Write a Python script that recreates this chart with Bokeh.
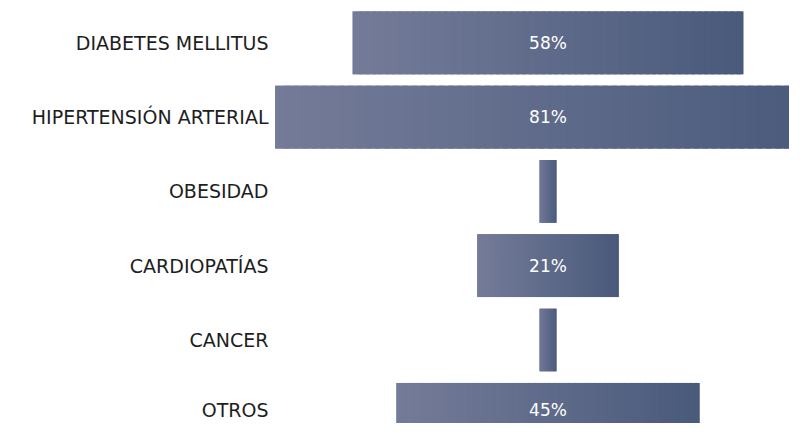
from bokeh.plotting import figure
from bokeh.models import Range1d, ColumnDataSource
from bokeh.core.properties import value
from bokeh.embed import file_html
from bokeh.resources import INLINE

# ---- data ----
categories = ["DIABETES MELLITUS", "HIPERTENSIÓN ARTERIAL", "OBESIDAD",
              "CARDIOPATÍAS", "CANCER", "OTROS"]
values = [58, 81, 2.5, 21, 2.5, 45]
value_labels = ["58%", "81%", "", "21%", "", "45%"]

# ---- style ----
LEFT_COLOR = (0x74, 0x7b, 0x99)
RIGHT_COLOR = (0x4a, 0x5a, 0x7b)
N_SLICES = 60
PX_PER_UNIT = 6.735
W, H = 789, 423
CENTER_PX = 547.5
ROW_PX = 74.3
FIRST_ROW_PX = 42.3
BAR_FRAC = 0.844
LABEL_RIGHT_PX = 268
LABEL_NUDGE_PX = [0, 0, 0, 0, 0, -4]   # small vertical nudges of the texts

x_start = -CENTER_PX / PX_PER_UNIT
x_end = (W - CENTER_PX) / PX_PER_UNIT
y_top = -FIRST_ROW_PX / ROW_PX
y_bottom = (H - FIRST_ROW_PX) / ROW_PX

p = figure(width=W, height=H, output_backend="svg", toolbar_location=None,
           x_range=Range1d(x_start, x_end), y_range=Range1d(y_bottom, y_top),
           min_border=0, outline_line_color=None)
p.axis.visible = False
p.grid.visible = False
p.background_fill_color = "white"
p.border_fill_color = "white"

def hexcol(c):
    return "#%02x%02x%02x" % tuple(int(round(v)) for v in c)

ys = list(range(len(categories)))
mid = hexcol([(a + b) / 2 for a, b in zip(LEFT_COLOR, RIGHT_COLOR)])

# base bars
p.hbar(y=ys, left=[-v / 2 for v in values], right=[v / 2 for v in values],
       height=BAR_FRAC, fill_color=mid, line_color=None)

# gradient slices (slightly overlapping to avoid seams)
sl, sr, sy, sc = [], [], [], []
for i, v in enumerate(values):
    left = -v / 2
    for j in range(N_SLICES):
        t = j / (N_SLICES - 1)
        sl.append(left + v * j / N_SLICES)
        sr.append(min(v / 2, left + v * (j + 1.6) / N_SLICES))
        sy.append(i)
        sc.append(hexcol([a + (b - a) * t for a, b in zip(LEFT_COLOR, RIGHT_COLOR)]))
p.hbar(y=sy, left=sl, right=sr, height=BAR_FRAC, fill_color=sc, line_color=None)

text_y = [y + n / ROW_PX for y, n in zip(ys, LABEL_NUDGE_PX)]

# category labels
label_x = (LABEL_RIGHT_PX - CENTER_PX) / PX_PER_UNIT
p.text(x=[label_x] * len(categories), y=text_y, text=categories,
       text_align="right", text_baseline="middle",
       text_font=value("DejaVu Sans"), text_font_size="19px", text_color="#1e1e1e")

# value labels
src = ColumnDataSource(dict(x=[0] * len(ys), y=text_y, t=value_labels))
p.text(x="x", y="y", text="t", source=src, text_align="center",
       text_baseline="middle", text_font=value("DejaVu Sans"), text_font_size="17px",
       text_color="white")

open("out.html", "w").write(file_html(p, INLINE))
